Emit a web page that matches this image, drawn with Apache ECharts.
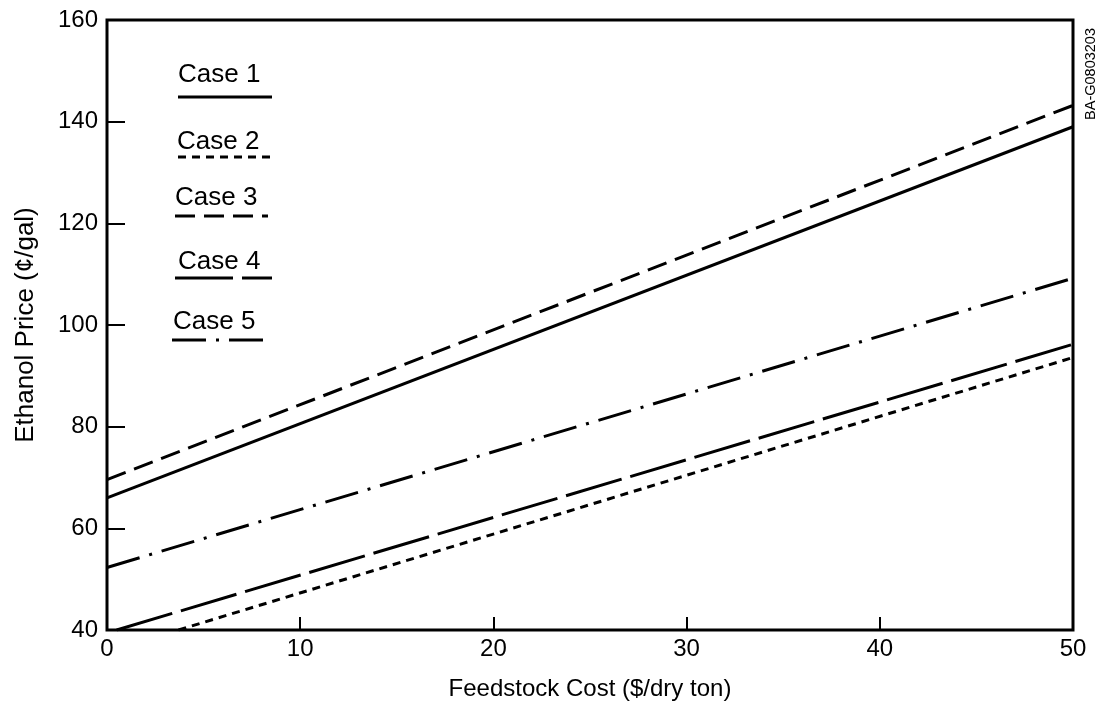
<!DOCTYPE html>
<html>
<head>
<meta charset="utf-8">
<script src="https://cdn.jsdelivr.net/npm/echarts@6/dist/echarts.min.js"></script>
<style>
html,body{margin:0;padding:0;background:#fff;}
#chart{width:1098px;height:702px;}
</style>
</head>
<body>
<div id="chart"></div>
<script>
// Data
const caseNames = ['Case 1', 'Case 2', 'Case 3', 'Case 4', 'Case 5'];
const case1 = [[0, 66.0], [50, 139.0]];
const case2 = [[3.7, 40.0], [50, 93.6]];
const case3 = [[0, 69.6], [50, 143.2]];
const case4 = [[0.5, 40.0], [50, 96.2]];
const case5 = [[0, 52.3], [50, 109.2]];
const xTicks = [0, 10, 20, 30, 40, 50];
const yTicks = [40, 60, 80, 100, 120, 140, 160];

const caseData = [case1, case2, case3, case4, case5];
const dashes = ['solid', [8, 6], [20, 9], [58, 9], [34, 10, 3, 10]];
const font = 'Liberation Sans, Arial, Helvetica, sans-serif';

const chart = echarts.init(document.getElementById('chart'), null, {renderer: 'canvas'});

const legendLineY = [97, 157, 216, 278, 340];
const legendTextY = [75, 142, 198, 262, 322];
const legendTextX = [178, 177, 175, 178, 173];
const legendLineX = [[178, 272], [178, 272], [175, 268], [175, 272], [172, 270]];
const legendGraphics = [];
caseNames.forEach((n, i) => {
  legendGraphics.push({
    type: 'text', x: legendTextX[i], y: legendTextY[i],
    style: {text: n, font: '26px ' + font, fill: '#000', align: 'left', verticalAlign: 'middle'}
  });
  legendGraphics.push({
    type: 'line',
    shape: {x1: legendLineX[i][0], y1: legendLineY[i], x2: legendLineX[i][1], y2: legendLineY[i]},
    style: {stroke: '#000', lineWidth: 3, lineDash: dashes[i] === 'solid' ? null : dashes[i]}
  });
});
legendGraphics.push({
  type: 'text', x: 1091, y: 74, rotation: Math.PI / 2,
  style: {text: 'BA-G0803203', font: '14.5px ' + font, fill: '#000', align: 'center', verticalAlign: 'middle'}
});

chart.setOption({
  backgroundColor: '#fff',
  animation: false,
  grid: {left: 107, right: 25, top: 20, bottom: 72, show: true, borderColor: '#000', borderWidth: 3,
         containLabel: false, outerBoundsMode: 'none'},
  xAxis: {
    type: 'value', min: xTicks[0], max: xTicks[xTicks.length - 1], interval: 10,
    name: 'Feedstock Cost ($/dry ton)', nameLocation: 'middle', nameGap: 47,
    nameTextStyle: {fontFamily: font, fontSize: 24, color: '#000'},
    axisLine: {show: false},
    axisTick: {show: true, inside: true, length: 13, lineStyle: {color: '#000', width: 2}},
    axisLabel: {fontFamily: font, fontSize: 24, color: '#000', margin: 7},
    splitLine: {show: false}
  },
  yAxis: {
    type: 'value', min: yTicks[0], max: yTicks[yTicks.length - 1], interval: 20,
    name: 'Ethanol Price (¢/gal)', nameLocation: 'middle', nameGap: 68,
    nameTextStyle: {fontFamily: font, fontSize: 26, color: '#000'},
    axisLine: {show: false},
    axisTick: {show: true, inside: true, length: 18, lineStyle: {color: '#000', width: 2}},
    axisLabel: {fontFamily: font, fontSize: 24, color: '#000', margin: 9},
    splitLine: {show: false}
  },
  series: caseData.map((d, i) => ({
    name: caseNames[i], type: 'line', data: d, symbol: 'none', clip: true,
    lineStyle: {color: '#000', width: 3, type: dashes[i]}
  })),
  graphic: legendGraphics
});
</script>
</body>
</html>
